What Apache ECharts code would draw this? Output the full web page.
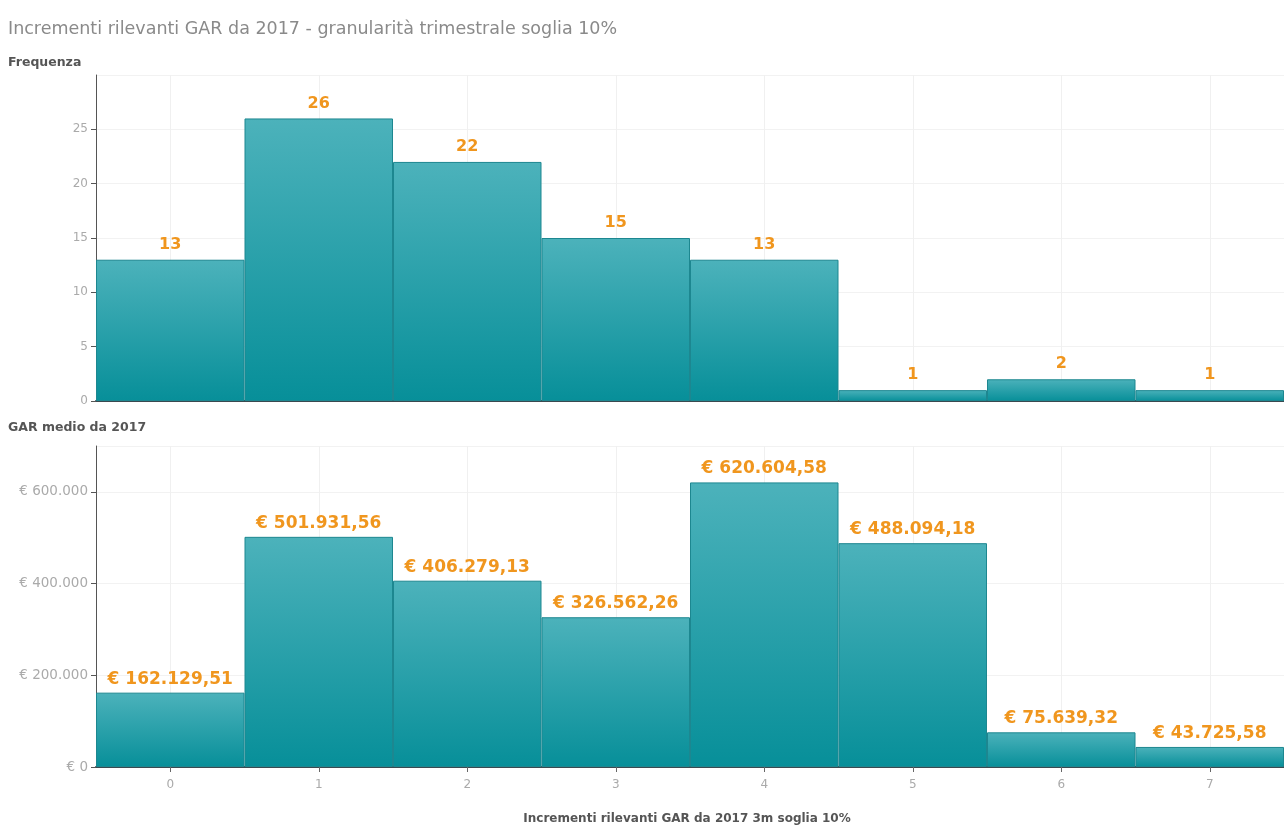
<!DOCTYPE html>
<html><head><meta charset="utf-8">
<script src="https://cdn.jsdelivr.net/npm/echarts@6/dist/echarts.min.js"></script>
<style>html,body{margin:0;padding:0;background:#fff}#c{width:1284px;height:826px}</style>
</head><body><div id="c"></div>
<script>
const categories = ['0','1','2','3','4','5','6','7'];
const frequenza = [13, 26, 22, 15, 13, 1, 2, 1];
const garMedio = [162129.51, 501931.56, 406279.13, 326562.26, 620604.58, 488094.18, 75639.32, 43725.58];
const freqTicks = [0, 5, 10, 15, 20, 25];
const garTicks = [0, 200000, 400000, 600000];

function fmtEuro(v, dec) {
  const parts = v.toFixed(dec).split('.');
  const intPart = parts[0].replace(/\B(?=(\d{3})+(?!\d))/g, '.');
  return '€ ' + intPart + (dec ? ',' + parts[1] : '');
}

const barColor = new echarts.graphic.LinearGradient(0, 0, 0, 1, [
  {offset: 0, color: '#4cb2bb'}, {offset: 1, color: '#078f99'}
]);
const font = '"DejaVu Sans", sans-serif';

const chart = echarts.init(document.getElementById('c'), null, {renderer: 'canvas'});
chart.setOption({
  animation: false,
  textStyle: {fontFamily: font},
  title: [
    {text: 'Incrementi rilevanti GAR da 2017 - granularità trimestrale soglia 10%', left: 3, top: 15,
      textStyle: {fontSize: 17.5, fontWeight: 'normal', color: '#8a8a8a', fontFamily: font}},
    {text: 'Frequenza', left: 3, top: 51, textStyle: {fontSize: 12.5, fontWeight: 'bold', color: '#555', fontFamily: font}},
    {text: 'GAR medio da 2017', left: 3, top: 416, textStyle: {fontSize: 12.5, fontWeight: 'bold', color: '#555', fontFamily: font}},
    {text: 'Incrementi rilevanti GAR da 2017 3m soglia 10%', left: 682, textAlign: 'center', top: 808,
      textStyle: {fontSize: 12, fontWeight: 'bold', color: '#555', fontFamily: font}}
  ],
  grid: [
    {left: 96, right: 0, top: 75, height: 326},
    {left: 96, right: 0, top: 446, height: 321}
  ],
  xAxis: [
    {type: 'category', gridIndex: 0, data: categories, boundaryGap: true,
      axisLine: {lineStyle: {color: '#3a4a50', width: 2}}, axisTick: {show: false}, axisLabel: {show: false},
      splitLine: {show: true, alignWithLabel: true, lineStyle: {color: '#f0f0f0'}}},
    {type: 'category', gridIndex: 1, data: categories, boundaryGap: true,
      axisLine: {lineStyle: {color: '#3a4a50', width: 2}},
      axisTick: {show: true, alignWithLabel: true, length: 5, lineStyle: {color: '#666'}},
      axisLabel: {color: '#aaa', fontSize: 12, margin: 12},
      splitLine: {show: true, alignWithLabel: true, lineStyle: {color: '#f0f0f0'}}}
  ],
  yAxis: [
    {type: 'value', gridIndex: 0, min: 0, max: 30, interval: 5,
      axisLine: {show: true, lineStyle: {color: '#555'}},
      axisTick: {show: true, length: 5, lineStyle: {color: '#555'}},
      axisLabel: {color: '#aaa', fontSize: 12, margin: 8, showMaxLabel: false,
        formatter: v => freqTicks.includes(v) ? String(v) : ''},
      splitLine: {lineStyle: {color: '#f2f2f2'}}},
    {type: 'value', gridIndex: 1, min: 0, max: 700000, interval: 200000,
      axisLine: {show: true, lineStyle: {color: '#555'}},
      axisTick: {show: true, length: 5, lineStyle: {color: '#555'}},
      axisLabel: {color: '#aaa', fontSize: 13.5, margin: 8, showMaxLabel: false,
        formatter: v => garTicks.includes(v) ? fmtEuro(v, 0) : ''},
      splitLine: {lineStyle: {color: '#f2f2f2'}}}
  ],
  series: [
    {type: 'bar', xAxisIndex: 0, yAxisIndex: 0, data: frequenza, barCategoryGap: 0,
      itemStyle: {color: barColor, borderColor: '#1d8790', borderWidth: 1},
      label: {show: true, position: 'top', distance: 7, color: '#f0961e', fontSize: 16, fontWeight: 'bold', fontFamily: font}},
    {type: 'bar', xAxisIndex: 1, yAxisIndex: 1, data: garMedio, barCategoryGap: 0,
      itemStyle: {color: barColor, borderColor: '#1d8790', borderWidth: 1},
      label: {show: true, position: 'top', distance: 5, color: '#f0961e', fontSize: 17, fontWeight: 'bold', fontFamily: font,
        formatter: p => fmtEuro(p.value, 2)}}
  ]
});
</script></body></html>
